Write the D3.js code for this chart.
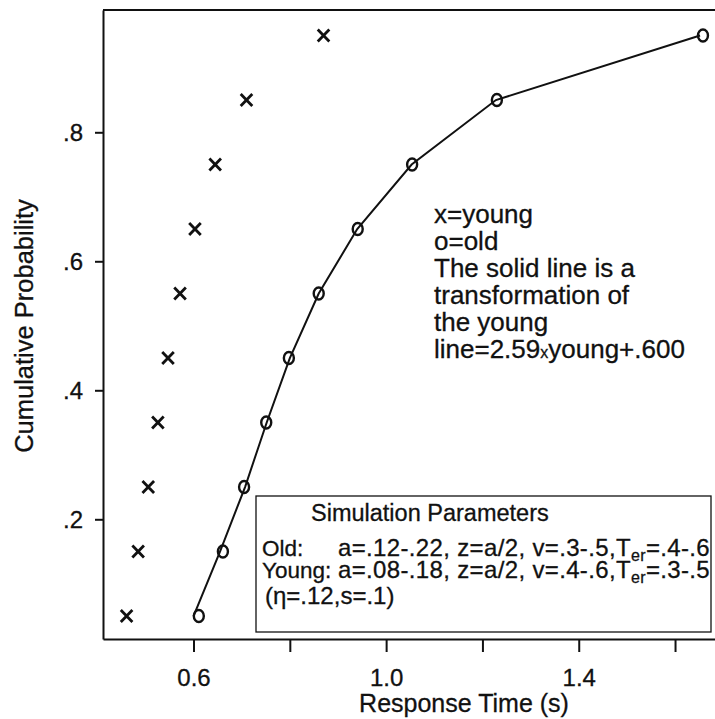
<!DOCTYPE html>
<html>
<head>
<meta charset="utf-8">
<script src="https://cdn.jsdelivr.net/npm/d3@7"></script>
<style>
  html, body { margin: 0; padding: 0; background: #fff; }
  svg { display: block; }
  text { font-family: "Liberation Sans", Arial, Helvetica, sans-serif; fill: #111; stroke: #111; stroke-width: 0.3px; }
</style>
</head>
<body>
<svg id="chart" width="715" height="719"></svg>
<script>
// Cumulative probability levels (quantiles) shared by all series
const probs = [0.05, 0.15, 0.25, 0.35, 0.45, 0.55, 0.65, 0.75, 0.85, 0.95];
// Quantile response times (s)
const youngRT = [0.461, 0.485, 0.506, 0.526, 0.547, 0.572, 0.603, 0.645, 0.710, 0.870];
const oldRT   = [0.611, 0.661, 0.705, 0.751, 0.798, 0.860, 0.941, 1.054, 1.230, 1.658];
// Transformed young quantiles (solid line)
const fitRT   = [0.600, 0.655, 0.707, 0.752, 0.800, 0.860, 0.940, 1.053, 1.228, 1.652];

const xTicks = [0.6, 0.8, 1.0, 1.2, 1.4, 1.6];
const xTickLabels = ["0.6", "", "1.0", "", "1.4", ""];
const yTicks = [0.2, 0.4, 0.6, 0.8];
const yTickLabels = [".2", ".4", ".6", ".8"];

const xDomain = [0.412, 1.683];
const yDomain = [0.0144, 0.9896];

const notes = [
  "x=young",
  "o=old",
  "The solid line is a",
  "transformation of",
  "the young"
];
const paramTitle = "Simulation Parameters";
const paramRows = [
  { group: "Old:",   a: "a=.12-.22, z=a/2, v=.3-.5,T", sub: "er", rest: "=.4-.6" },
  { group: "Young:", a: "a=.08-.18, z=a/2, v=.4-.6,T", sub: "er", rest: "=.3-.5" }
];
const paramFoot = "(\u03b7=.12,s=.1)";

const svg = d3.select("#chart");
const plotL = 103, plotR = 715, plotT = 10, plotB = 639;

const x = d3.scaleLinear().domain(xDomain).range([plotL, plotR]);
const y = d3.scaleLinear().domain(yDomain).range([plotB, plotT]);

// top frame line
svg.append("line")
  .attr("x1", plotL).attr("x2", plotR).attr("y1", plotT).attr("y2", plotT)
  .attr("stroke", "#111").attr("stroke-width", 2);

// x axis
const gx = svg.append("g").attr("transform", `translate(0,${plotB})`)
  .call(d3.axisBottom(x).tickValues(xTicks).tickSize(13).tickSizeOuter(0)
    .tickFormat((d, i) => xTickLabels[i]));
gx.select(".domain").attr("stroke", "#111").attr("stroke-width", 2);
gx.selectAll(".tick line").attr("stroke", "#111").attr("stroke-width", 2);
gx.selectAll(".tick text")
  .attr("y", 47).attr("dy", 0)
  .style("font-size", "24px").style("font-family", "'Liberation Sans', Arial, sans-serif").attr("fill", "#111");

// y axis
const gy = svg.append("g").attr("transform", `translate(${plotL},0)`)
  .call(d3.axisLeft(y).tickValues(yTicks).tickSize(8).tickSizeOuter(0)
    .tickFormat((d, i) => yTickLabels[i]));
gy.select(".domain").attr("stroke", "#111").attr("stroke-width", 2);
gy.selectAll(".tick line").attr("stroke", "#111").attr("stroke-width", 2);
gy.selectAll(".tick text")
  .attr("x", -20).attr("dy", "0.36em")
  .style("font-size", "24px").style("font-family", "'Liberation Sans', Arial, sans-serif").attr("fill", "#111");

// axis titles
svg.append("text")
  .attr("x", 464).attr("y", 712)
  .attr("text-anchor", "middle")
  .style("font-size", "25px")
  .text("Response Time (s)");

svg.append("text")
  .attr("transform", "translate(33,326) rotate(-90)")
  .attr("text-anchor", "middle")
  .style("font-size", "25.5px")
  .text("Cumulative Probability");

// transformed young line
const line = d3.line().x(d => x(d[0])).y(d => y(d[1]));
svg.append("path")
  .datum(fitRT.map((t, i) => [t, probs[i]]))
  .attr("d", line)
  .attr("fill", "none").attr("stroke", "#111").attr("stroke-width", 2);

// old: open circles
svg.append("g").selectAll("ellipse")
  .data(oldRT.map((t, i) => [t, probs[i]]))
  .join("ellipse")
  .attr("cx", d => x(d[0])).attr("cy", d => y(d[1]))
  .attr("rx", 5).attr("ry", 6)
  .attr("fill", "none").attr("stroke", "#111").attr("stroke-width", 2.4);

// young: x marks
svg.append("g").selectAll("path")
  .data(youngRT.map((t, i) => [t, probs[i]]))
  .join("path")
  .attr("transform", d => `translate(${x(d[0])},${y(d[1])})`)
  .attr("d", "M-5.8,-6L5.8,6M5.8,-6L-5.8,6")
  .attr("stroke", "#111").attr("stroke-width", 2.8);

// annotation
const note = svg.append("text").attr("x", 434).attr("y", 223).style("font-size", "26px");
notes.forEach((s, i) => {
  note.append("tspan").attr("x", 434).attr("dy", i === 0 ? 0 : 27).text(s);
});
const lastLine = note.append("tspan").attr("x", 434).attr("dy", 27);
lastLine.append("tspan").text("line=2.59");
lastLine.append("tspan").style("font-size", "16px").text("x");
lastLine.append("tspan").text("young+.600");

// parameter box
svg.append("rect")
  .attr("x", 256).attr("y", 496).attr("width", 455).attr("height", 136)
  .attr("fill", "#fff").attr("stroke", "#111").attr("stroke-width", 1.3);

svg.append("text").attr("x", 311).attr("y", 521)
  .style("font-size", "23.5px").text(paramTitle);

paramRows.forEach((r, i) => {
  const yy = 556 + i * 22;
  svg.append("text").attr("x", 262).attr("y", yy).style("font-size", "22.5px").text(r.group);
  const t = svg.append("text").attr("x", 338).attr("y", yy)
    .style("font-size", "24px").style("letter-spacing", "0.35px");
  t.append("tspan").text(r.a);
  t.append("tspan").attr("dy", 5).style("font-size", "16px").text(r.sub);
  t.append("tspan").attr("dy", -5).text(r.rest);
});

svg.append("text").attr("x", 265).attr("y", 604)
  .style("font-size", "24px").text(paramFoot);
</script>
</body>
</html>
